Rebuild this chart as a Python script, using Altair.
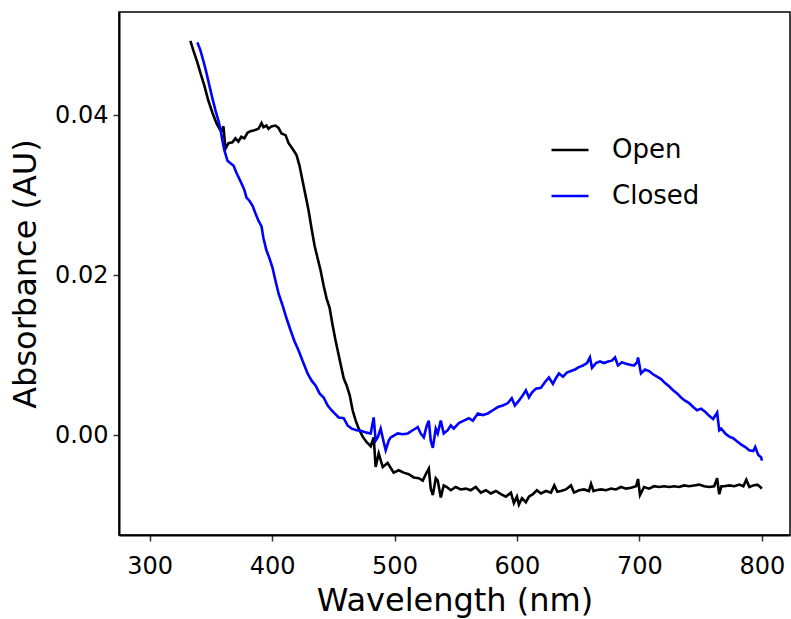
import altair as alt
import pandas as pd

open_wl = [333.3, 335.7, 339.0, 341.5, 344.7, 348.0, 351.3, 354.6, 357.0, 358.6, 360.3, 361.9, 364.4, 367.6,
           370.1, 372.5, 374.9, 377.4, 379.9, 382.4, 385.6, 388.9, 391.4, 393.0, 395.4, 397.1, 399.5, 402.8,
           405.3, 407.7, 411.0, 413.5, 416.7, 420.0, 422.4, 424.9, 427.3, 429.8, 432.3, 434.7, 437.2, 439.6,
           442.1, 444.5, 447.0, 449.5, 451.9, 454.4, 456.8, 458.5, 460.9, 463.4, 465.8, 468.3, 470.8, 474.0,
           477.3, 480.6, 483.0, 484.6, 487.1, 490.4, 494.4, 499.3, 503.4, 507.5, 511.6, 515.7, 519.8, 523.1,
           525.5, 528.0, 529.6, 531.3, 533.7, 535.3, 537.8, 540.2, 542.7, 546.0, 550.0, 554.1, 558.2, 562.3,
           566.4, 570.5, 574.6, 578.7, 582.8, 586.9, 591.0, 595.1, 597.5, 600.0, 601.6, 604.1, 607.3, 609.8,
           613.0, 616.3, 619.6, 623.7, 627.8, 630.5, 633.0, 635.9, 640.0, 644.1, 646.6, 650.7, 654.8, 658.8,
           660.5, 662.5, 664.6, 668.6, 672.8, 676.8, 680.9, 685.0, 689.1, 693.2, 697.3, 698.9, 700.5, 703.8,
           707.9, 712.0, 716.1, 720.2, 724.3, 728.4, 732.5, 736.5, 740.6, 744.7, 748.8, 752.9, 757.0, 761.1,
           763.5, 765.2, 767.0, 769.3, 773.4, 777.5, 781.6, 784.9, 787.3, 789.8, 793.0, 796.3, 798.8, 800.0]
open_abs = [0.0493, 0.0481, 0.0466, 0.0453, 0.0437, 0.0418, 0.0403, 0.0390, 0.0383, 0.0380, 0.0386, 0.0358,
            0.0365, 0.0366, 0.0371, 0.0367, 0.0373, 0.0371, 0.0378, 0.0380, 0.0381, 0.0383, 0.0390, 0.0385,
            0.0387, 0.0383, 0.0386, 0.0387, 0.0384, 0.0377, 0.0375, 0.0365, 0.0358, 0.0350, 0.0337, 0.0318,
            0.0300, 0.0281, 0.0258, 0.0237, 0.0221, 0.0206, 0.0187, 0.0171, 0.0159, 0.0137, 0.0118, 0.0100,
            0.0083, 0.0071, 0.0062, 0.0050, 0.0031, 0.0018, 0.0008, -0.0002, -0.0009, -0.0014, -0.0003,
            -0.0040, -0.0023, -0.0040, -0.0035, -0.0047, -0.0044, -0.0047, -0.0049, -0.0053, -0.0054,
            -0.0057, -0.0049, -0.0042, -0.0067, -0.0075, -0.0054, -0.0057, -0.0078, -0.0063, -0.0065,
            -0.0069, -0.0065, -0.0068, -0.0067, -0.0069, -0.0065, -0.0072, -0.0069, -0.0073, -0.0070,
            -0.0074, -0.0077, -0.0072, -0.0085, -0.0077, -0.0087, -0.0079, -0.0084, -0.0077, -0.0074,
            -0.0069, -0.0073, -0.0070, -0.0072, -0.0063, -0.0071, -0.0070, -0.0068, -0.0063, -0.0072,
            -0.0069, -0.0068, -0.0070, -0.0061, -0.0070, -0.0069, -0.0068, -0.0069, -0.0067, -0.0068,
            -0.0065, -0.0067, -0.0066, -0.0064, -0.0055, -0.0075, -0.0065, -0.0067, -0.0064, -0.0065,
            -0.0064, -0.0065, -0.0064, -0.0065, -0.0063, -0.0064, -0.0063, -0.0062, -0.0064, -0.0065,
            -0.0064, -0.0054, -0.0074, -0.0064, -0.0064, -0.0063, -0.0064, -0.0062, -0.0064, -0.0056,
            -0.0065, -0.0063, -0.0062, -0.0065, -0.0067]

closed_wl = [339.0, 341.5, 343.9, 346.4, 348.8, 351.3, 353.8, 356.2, 357.8, 359.5, 361.1, 363.6, 366.0, 368.5,
             370.9, 373.4, 375.8, 377.5, 379.1, 381.5, 384.0, 386.5, 388.9, 391.4, 393.0, 395.4, 397.9, 400.4,
             402.8, 405.3, 408.6, 411.8, 415.1, 418.4, 421.6, 424.9, 429.0, 432.3, 435.5, 438.8, 442.1, 445.4,
             448.6, 451.1, 454.4, 458.5, 461.7, 465.0, 469.1, 473.2, 477.3, 480.6, 483.0, 484.6, 486.3, 488.7,
             491.2, 492.8, 495.3, 496.9, 500.2, 502.6, 506.7, 510.8, 514.9, 519.0, 521.4, 523.9, 526.4, 528.0,
             529.6, 531.3, 533.7, 535.3, 537.8, 540.2, 543.5, 546.0, 548.4, 552.5, 556.6, 560.7, 564.0, 568.0,
             572.1, 576.2, 580.3, 584.4, 588.5, 592.6, 595.8, 598.3, 601.6, 604.9, 607.3, 609.8, 612.2, 615.5,
             619.6, 622.8, 626.1, 629.4, 631.8, 634.3, 637.6, 640.8, 644.1, 647.4, 650.6, 653.9, 657.2, 659.6,
             661.3, 664.5, 667.8, 671.1, 674.4, 677.6, 680.1, 682.5, 685.8, 689.1, 692.3, 695.6, 698.1, 698.9,
             701.3, 704.6, 707.9, 711.1, 714.4, 717.7, 721.0, 724.2, 727.5, 730.8, 734.0, 737.3, 740.6, 743.9,
             747.1, 750.4, 753.7, 757.0, 760.2, 763.5, 765.2, 766.8, 770.1, 773.4, 776.6, 779.9, 783.2, 786.5,
             789.7, 793.0, 794.6, 797.1, 799.5, 800.0]
closed_abs = [0.0491, 0.0481, 0.0468, 0.0453, 0.0437, 0.0421, 0.0406, 0.0393, 0.0383, 0.0368, 0.0356, 0.0343,
              0.0340, 0.0337, 0.0328, 0.0320, 0.0312, 0.0306, 0.0297, 0.0293, 0.0287, 0.0277, 0.0268, 0.0261,
              0.0246, 0.0231, 0.0221, 0.0209, 0.0193, 0.0177, 0.0162, 0.0146, 0.0131, 0.0117, 0.0106, 0.0093,
              0.0077, 0.0068, 0.0062, 0.0052, 0.0047, 0.0037, 0.0031, 0.0027, 0.0022, 0.0021, 0.0012, 0.0008,
              0.0006, 0.0005, 0.0003, 0.0002, 0.0022, -0.0007, -0.0003, 0.0008, -0.0009, -0.0019, -0.0007,
              -0.0003, 0.0000, 0.0002, 0.0001, 0.0002, 0.0006, 0.0010, 0.0002, -0.0003, 0.0012, 0.0018,
              -0.0007, -0.0016, 0.0008, 0.0002, 0.0018, 0.0002, 0.0006, 0.0012, 0.0008, 0.0015, 0.0018,
              0.0021, 0.0018, 0.0027, 0.0025, 0.0027, 0.0031, 0.0035, 0.0037, 0.0040, 0.0046, 0.0037,
              0.0043, 0.0050, 0.0056, 0.0047, 0.0053, 0.0058, 0.0059, 0.0066, 0.0072, 0.0064, 0.0071,
              0.0077, 0.0073, 0.0078, 0.0080, 0.0082, 0.0085, 0.0087, 0.0090, 0.0097, 0.0084, 0.0090,
              0.0092, 0.0090, 0.0092, 0.0093, 0.0097, 0.0087, 0.0091, 0.0089, 0.0088, 0.0087, 0.0091,
              0.0097, 0.0077, 0.0082, 0.0080, 0.0076, 0.0073, 0.0070, 0.0065, 0.0061, 0.0056, 0.0052,
              0.0047, 0.0043, 0.0040, 0.0035, 0.0031, 0.0033, 0.0029, 0.0024, 0.0020, 0.0028, 0.0006,
              0.0008, 0.0002, -0.0002, -0.0004, -0.0008, -0.0012, -0.0015, -0.0019, -0.0020, -0.0015,
              -0.0025, -0.0028, -0.0032]

series_names = ["Open", "Closed"]
series_colors = ["#000000", "#0000FF"]
x_ticks = [300, 400, 500, 600, 700, 800]
y_ticks = [0.0, 0.02, 0.04]

df = pd.concat([
    pd.DataFrame({"wl": open_wl, "abs": open_abs, "state": "Open", "ord": 0}),
    pd.DataFrame({"wl": closed_wl, "abs": closed_abs, "state": "Closed", "ord": 1}),
], ignore_index=True)
df["idx"] = range(len(df))

FONT = "DejaVu Sans"

chart = alt.Chart(df).mark_line(strokeWidth=2.6, clip=True).encode(
    x=alt.X("wl:Q", title="Wavelength (nm)",
            scale=alt.Scale(domain=[275, 823], nice=False, zero=False),
            axis=alt.Axis(values=x_ticks, format="d", tickSize=6, labelPadding=13,
                          titlePadding=7, grid=False)),
    y=alt.Y("abs:Q", title="Absorbance (AU)",
            scale=alt.Scale(domain=[-0.0125, 0.0529], nice=False, zero=False),
            axis=alt.Axis(values=y_ticks, format=".2f", tickSize=6, labelPadding=5,
                          titlePadding=12, grid=False)),
    color=alt.Color("state:N", scale=alt.Scale(domain=series_names, range=series_colors),
                    legend=alt.Legend(title=None, orient="none", legendX=431, legendY=118,
                                      symbolType="stroke", symbolSize=1369, symbolStrokeWidth=2.5,
                                      labelFontSize=26, labelFont=FONT, labelOffset=22,
                                      rowPadding=13, padding=0, labelColor="#000000")),
    detail="ord:O",
    order=alt.Order("idx:Q"),
).properties(
    width=671, height=523,
    autosize=alt.AutoSizeParams(type="none"),
    padding={"left": 119, "top": 12, "right": 1, "bottom": 84},
).configure(
    background="white"
).configure_view(
    stroke="#000000", strokeWidth=1.5
).configure_axis(
    domainColor="#000000", domainWidth=2, tickColor="#333333", tickWidth=1.5,
    labelFont=FONT, labelFontSize=24, labelColor="#000000",
    titleFont=FONT, titleFontSize=32, titleFontWeight="normal", titleColor="#000000",
)

chart.save("out.html", embed_options={"renderer": "svg", "actions": False})
